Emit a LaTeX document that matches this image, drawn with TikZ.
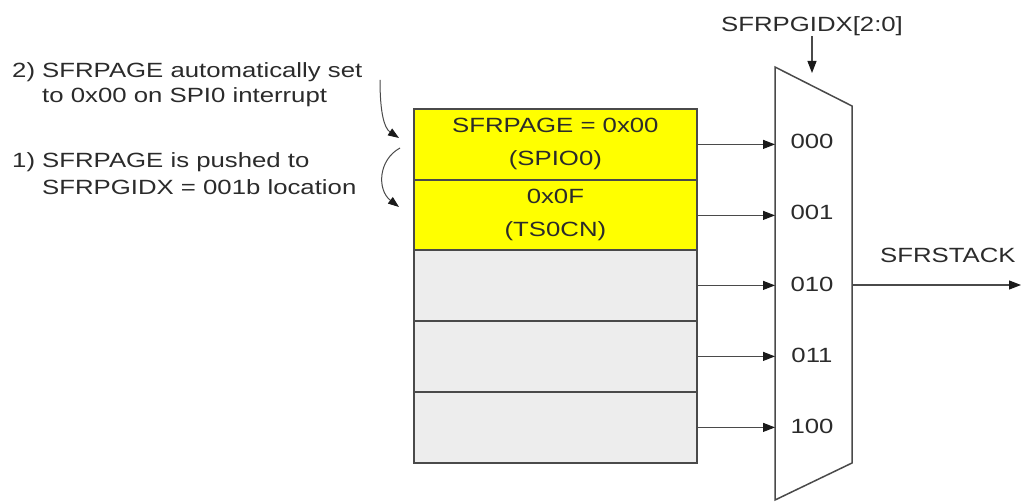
\documentclass[tikz,border=0pt]{standalone}
\usepackage{fontspec}
\setmainfont{Liberation Sans}[FakeStretch=1.25]
\usetikzlibrary{arrows.meta}
\definecolor{ink}{HTML}{2B2B2B}
\definecolor{edge}{HTML}{4A4A4A}
\definecolor{tip}{HTML}{1A1A1A}
\definecolor{cellgray}{HTML}{EDEDED}
\definecolor{cellyellow}{HTML}{FFFF00}
\begin{document}
\begin{tikzpicture}[x=1pt,y=-1pt,
  font=\fontsize{20.6}{33}\selectfont,
  cell/.style={draw=edge, line width=1.8pt, minimum width=283pt, minimum height=71pt,
    anchor=north west, inner sep=0pt, align=center, text=ink},
  link/.style={draw=edge, line width=1.1pt, -{Triangle[length=12pt,width=9pt,color=tip]}},
  curvearrow/.style={draw=edge, line width=1pt, -{Triangle[length=11pt,width=8pt,color=tip]}},
  lbl/.style={inner sep=0pt, text=ink},
  muxline/.style={draw=edge, line width=1.5pt}
]
\useasboundingbox (0,0) rectangle (1024,502);

% stack of cells
\node[cell, fill=cellyellow] (r1) at (413,108) {SFRPAGE = 0x00\\(SPIO0)};
\node[cell, fill=cellyellow] (r2) at (413,179) {0x0F\\(TS0CN)};
\node[cell, fill=cellgray] (r3) at (413,249) {};
\node[cell, fill=cellgray] (r4) at (413,320) {};
\node[cell, fill=cellgray] (r5) at (413,391) {};

% multiplexer
\coordinate (mtl) at (775,67);
\coordinate (mtr) at (852,106);
\coordinate (mbr) at (852,463);
\coordinate (mbl) at (775,500);
\draw[muxline] (mtl) -- (mtr) -- (mbr) -- (mbl) -- cycle;

\node[lbl] (l0) at (812,141) {000};
\node[lbl] (l1) at (812,212) {001};
\node[lbl] (l2) at (812,284) {010};
\node[lbl] (l3) at (812,355) {011};
\node[lbl] (l4) at (812,426) {100};

% inputs to mux
\foreach \r in {r1,r2,r3,r4,r5}
  \draw[link] (\r.east) -- (\r.east -| mtl);

% select input
\node[lbl, anchor=base] (sel) at (812,32) {SFRPGIDX[2:0]};
\coordinate (seltip) at (812,73);
\draw[link] (sel.south) -- (seltip);

% output
\node[lbl, anchor=base west] (stk) at (880,263) {SFRSTACK};
\coordinate (outs) at (852,285);
\coordinate (oute) at (1021,285);
\draw[link] (outs) -- (oute);

% left annotations
\node[lbl, anchor=base west] (t2a) at (12,78) {2) SFRPAGE automatically set};
\node[lbl, anchor=base west] (t2b) at (42,103) {to 0x00 on SPI0 interrupt};
\node[lbl, anchor=base west] (t1a) at (12,168) {1) SFRPAGE is pushed to};
\node[lbl, anchor=base west] (t1b) at (42,195) {SFRPGIDX = 001b location};

\coordinate (a2s) at (380,80);
\coordinate (a2e) at (399,138);
\draw[curvearrow] (a2s) .. controls (380,112) and (384,128) .. (a2e);
\coordinate (a1s) at (400,148);
\coordinate (a1e) at (399,207);
\draw[curvearrow] (a1s) .. controls (378,160) and (377,190) .. (a1e);
\end{tikzpicture}
\end{document}
